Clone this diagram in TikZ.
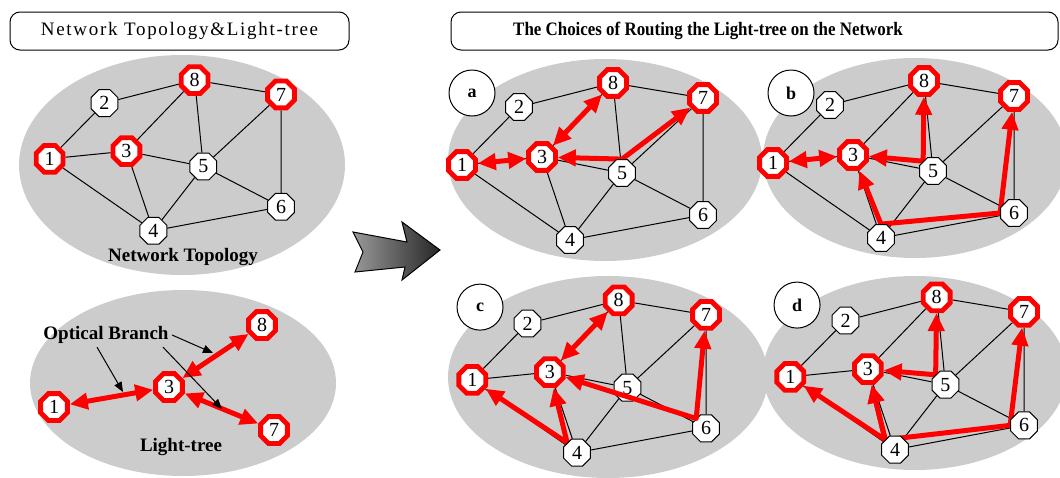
\documentclass[tikz,border=0pt]{standalone}
\usepackage{fontspec}
\setmainfont{Liberation Serif}
\usetikzlibrary{shapes.geometric,arrows.meta,backgrounds}

\begin{document}
\begin{tikzpicture}[x=1pt,y=-1pt,
  >={Triangle[length=18pt,width=16pt]},
  nd/.style={regular polygon, regular polygon sides=8, draw, fill=white, line width=1pt,
    minimum size=29pt, inner sep=0pt, font=\fontsize{20}{20}\selectfont},
  rnd/.style={nd, draw=red, line width=4.8pt},
  edge/.style={line width=1pt},
  rt/.style={draw=red, line width=5pt, line join=round},
  bg/.style={fill=black!20},
  lbl/.style={circle, draw, fill=white, line width=1pt, minimum size=46pt,
    font=\bfseries\fontsize{18}{18}\selectfont},
  captxt/.style={font=\bfseries\fontsize{19}{19}\selectfont},
  hbox/.style={draw, rounded corners=10pt, line width=1pt, minimum height=38pt},
  ptr/.style={line width=1pt, -{Triangle[length=10pt,width=8pt]}}]

	\useasboundingbox (0,0) rectangle (1060,477);

	% headings
	\node[hbox, minimum width=339pt, font=\fontsize{19}{19}\selectfont\addfontfeature{LetterSpace=9}] (head1) at (179.5,31) {Network Topology\&Light-tree};
	\node[hbox, minimum width=607pt] (head2) at (754.5,31) {};
	\node[captxt] (head2txt) at (708,31) {\scalebox{0.89}[1]{The Choices of Routing the Light-tree on the Network}};

	% grey areas
	\begin{pgfonlayer}{background}
		\foreach \cx/\cy/\rx/\ry in {182/165/163/110, 183/383/153/93, 605/160/157/101,
		                             915/158/152/100, 608/377/160/101, 915/373/152/97}
			\fill[bg] (\cx,\cy) ellipse (\rx pt and \ry pt);
	\end{pgfonlayer}

	\def\net#1{
		\node[rnd] (#11) at (-142,5) {1};
		\node[nd]  (#12) at (-85,-53) {2};
		\node[rnd] (#13) at (-62,-3) {3};
		\node[nd]  (#14) at (-34,80) {4};
		\node[nd]  (#15) at (18,13) {5};
		\node[nd]  (#16) at (99,55) {6};
		\node[rnd] (#17) at (99,-62) {7};
		\node[rnd] (#18) at (9,-77) {8};
		\begin{pgfonlayer}{background}
			\foreach \u/\v in {1/2,2/8,8/7,8/3,8/5,7/5,7/6,1/3,3/5,1/4,3/4,5/4,5/6,4/6}
				\draw[edge] (#1\u) -- (#1\v);
		\end{pgfonlayer}
	}

	% network topology
	\begin{scope}[shift={(186,154)}, scale=0.96]
		\net{t}
	\end{scope}
	\node[captxt] (toplbl) at (183,257) {Network Topology};

	% light-tree
	\node[rnd] (l1) at (54,407) {1};
	\node[rnd] (l3) at (169,387) {3};
	\node[rnd] (l8) at (262,325) {8};
	\node[rnd] (l7) at (274,430) {7};
	\draw[rt,<->] (l1) -- (l3);
	\draw[rt,<->] (l3) -- (l8);
	\draw[rt,<->] (l3) -- (l7);
	\node[captxt] (branch) at (106,335) {Optical Branch};
	\node[captxt] (tree) at (181,447) {Light-tree};
	\coordinate (p1) at (123,392);
	\coordinate (p2) at (213,353);
	\coordinate (p3) at (222,409);
	\draw[ptr] ([xshift=-9pt]branch.south) -- (p1);
	\draw[ptr] (branch.east) -- (p2);
	\draw[ptr] ([xshift=57pt]branch.south) -- (p3);

	% big arrow
	\shade[draw=black, line width=1pt, left color=black!40, right color=black!85]
		(353,232) -- (407,242) -- (402,222) -- (440,250) -- (402,280) -- (405,267) -- (355,272) -- (363,252) -- cycle;

	% choices a-d
	\begin{scope}[shift={(604,160)}]
		\net{a}
		\node[lbl] (alab) at (-132,-67) {a};
	\end{scope}
	\begin{scope}[shift={(915,158)}]
		\net{b}
		\node[lbl] (blab) at (-124,-65) {b};
	\end{scope}
	\begin{scope}[shift={(610,375)}, scale=0.97]
		\net{c}
		\node[lbl] (clab) at (-134,-70) {c};
	\end{scope}
	\begin{scope}[shift={(928,372)}, scale=0.97]
		\net{d}
		\node[lbl] (dlab) at (-135,-69) {d};
	\end{scope}

	% routes
	\begin{pgfonlayer}{background}
		\draw[rt,<->] (a1) -- (a3);
		\draw[rt,<->] (a3) -- (a8);
		\draw[rt,<->] (a3) -- (a5.north) -- (a7);

		\draw[rt,<->] (b1) -- (b3);
		\draw[rt,<->] (b3) -- (b5.north west) -- (b8);
		\draw[rt,<->] (b3) -- (b4.north) -- (b6.west) -- (b7);

		\draw[rt,<->] (c3) -- (c8);
		\draw[rt,<->] (c1) -- (c4.north west) -- (c3);

		\draw[rt,<->] (d1) -- (d4.north west) -- (d3);
		\draw[rt,<->] (d3) -- (d4.north west) -- (d6.west) -- (d7);
		\draw[rt,<->] (d3) -- (d5.north west) -- (d8);
	\end{pgfonlayer}
	\draw[rt,<->] (c3) -- (c6.north west) -- (c7);
\end{tikzpicture}
\end{document}
